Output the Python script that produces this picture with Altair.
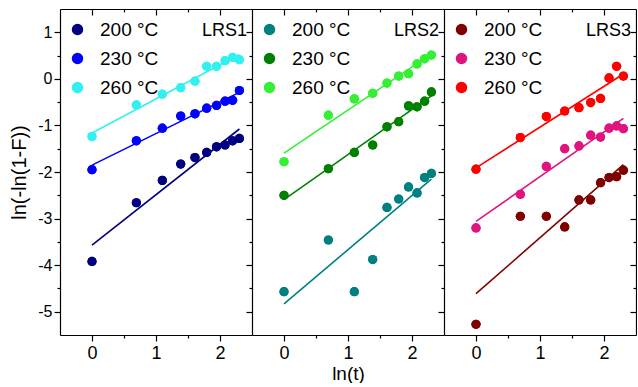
import altair as alt
import pandas as pd

# ---- data ----
ln_t = [0.0, 0.693, 1.099, 1.386, 1.609, 1.792, 1.946, 2.079, 2.197, 2.303]
temps = ["200 °C", "230 °C", "260 °C"]
panel_names = ["LRS1", "LRS2", "LRS3"]

lrs1_200 = [-3.92, -2.66, -2.18, -1.83, -1.69, -1.58, -1.46, -1.42, -1.33, -1.28]
lrs1_230 = [-1.95, -1.33, -1.06, -0.80, -0.75, -0.63, -0.57, -0.48, -0.46, -0.25]
lrs1_260 = [-1.24, -0.56, -0.33, -0.19, -0.05, 0.27, 0.27, 0.39, 0.46, 0.41]

lrs2_200 = [-4.57, -3.46, -4.57, -3.88, -2.76, -2.58, -2.32, -2.45, -2.12, -2.03]
lrs2_230 = [-2.50, -1.93, -1.58, -1.42, -1.03, -0.92, -0.58, -0.60, -0.48, -0.28]
lrs2_260 = [-1.78, -0.78, -0.43, -0.31, -0.09, 0.06, 0.11, 0.32, 0.43, 0.51]

lrs3_200 = [-5.27, -2.95, -2.95, -3.18, -2.60, -2.60, -2.23, -2.12, -2.10, -1.96]
lrs3_230 = [-3.20, -2.48, -1.88, -1.50, -1.44, -1.21, -1.25, -1.06, -1.01, -1.07]
lrs3_260 = [-1.94, -1.26, -0.81, -0.69, -0.62, -0.51, -0.42, 0.02, 0.27, 0.06]

colors_lrs1 = ["#000080", "#0000FF", "#33F0F0"]
colors_lrs2 = ["#008080", "#008000", "#33F033"]
colors_lrs3 = ["#800000", "#E0147F", "#FF0000"]

x_ticks = [0, 0.5, 1, 1.5, 2]
y_ticks = [-5, -4.5, -4, -3.5, -3, -2.5, -2, -1.5, -1, -0.5, 0, 0.5, 1]
x_domain = [-0.5, 2.5]
y_domain = [-5.5, 1.5]

W, H = 192, 326
FONT = "Liberation Sans"

tick_size = {"condition": {"test": "datum.value % 1 == 0", "value": 6}, "value": 3}
label_expr = "datum.value % 1 == 0 ? '' + datum.value : ''"


def panel(name, series, colors, first, middle, last):
    rows = []
    for temp, vals in zip(temps, series):
        for x, y in zip(ln_t, vals):
            rows.append({"lnt": x, "val": y, "temp": temp})
    df = pd.DataFrame(rows)

    xs = alt.Scale(domain=x_domain, nice=False, zero=False)
    ys = alt.Scale(domain=y_domain, nice=False, zero=False)
    cs = alt.Scale(domain=temps, range=colors)

    x_main = alt.X(
        "lnt:Q", scale=xs,
        axis=alt.Axis(orient="bottom", values=x_ticks, labelExpr=label_expr,
                      tickSize=tick_size, labelFontSize=18, labelPadding=3,
                      title="ln(t)" if middle else None, titleFontSize=19,
                      titlePadding=2, labelOverlap=False, labelFlush=False),
    )
    y_main = alt.Y(
        "val:Q", scale=ys,
        axis=alt.Axis(orient="left", values=y_ticks, labelExpr=label_expr,
                      labels=first, tickSize=tick_size, labelFontSize=16,
                      labelPadding=2, title="ln(-ln(1-F))" if first else None,
                      titleFontSize=20, titlePadding=8, labelOverlap=False,
                      labelFlush=False),
    )
    x_mirror = alt.X(
        "lnt:Q", scale=xs,
        axis=alt.Axis(orient="bottom", offset=-H, values=x_ticks, labels=False,
                      tickSize=tick_size, title=None),
    )
    if last:
        y_mirror = alt.Y(
            "val:Q", scale=ys,
            axis=alt.Axis(orient="left", offset=-W, values=y_ticks, labels=False,
                          tickSize=tick_size, title=None),
        )
    else:
        y_mirror = alt.Y("val:Q", scale=ys, axis=None)

    # first layer carries the legend and the main axes
    legend_points = (
        alt.Chart(df)
        .mark_circle(size=85, opacity=1)
        .encode(
            x=x_main, y=y_main,
            color=alt.Color(
                "temp:N", scale=cs,
                legend=alt.Legend(orient="none", legendX=8, legendY=11, title=None,
                                  padding=0, symbolType="circle", symbolSize=130,
                                  symbolStrokeWidth=0, labelFontSize=19,
                                  labelFont=FONT, labelOffset=13, rowPadding=9,
                                  labelColor="black"),
            ),
        )
    )
    lines = (
        alt.Chart(df)
        .transform_regression("lnt", "val", groupby=["temp"])
        .mark_line(strokeWidth=1.6)
        .encode(x=x_mirror, y=y_mirror, color=alt.Color("temp:N", scale=cs, legend=None))
    )
    top_points = (
        alt.Chart(df)
        .mark_circle(size=85, opacity=1)
        .encode(
            x=alt.X("lnt:Q", scale=xs, axis=None),
            y=alt.Y("val:Q", scale=ys, axis=None),
            color=alt.Color("temp:N", scale=cs, legend=None),
        )
    )
    label = (
        alt.Chart(pd.DataFrame({"name": [name]}))
        .mark_text(align="right", baseline="alphabetic", fontSize=18, font=FONT, color="black")
        .encode(text="name:N", x=alt.value(W - 5), y=alt.value(27))
    )
    return (
        alt.layer(legend_points, lines, top_points, label)
        .resolve_axis(x="independent", y="independent")
        .properties(width=W, height=H)
    )


p1 = panel(panel_names[0], [lrs1_200, lrs1_230, lrs1_260], colors_lrs1, True, False, False)
p2 = panel(panel_names[1], [lrs2_200, lrs2_230, lrs2_260], colors_lrs2, False, True, False)
p3 = panel(panel_names[2], [lrs3_200, lrs3_230, lrs3_260], colors_lrs3, False, False, True)

chart = (
    alt.hconcat(p1, p2, p3, spacing=0, bounds="flush")
    .resolve_scale(color="independent")
    .properties(padding={"left": 9, "top": 8, "right": 0, "bottom": 0}, background="white")
    .configure_view(stroke=None)
    .configure_axis(
        grid=False, domainColor="black", tickColor="black", domainWidth=1.2,
        tickWidth=1.2, labelFont=FONT, titleFont=FONT, labelColor="black",
        titleColor="black", titleFontWeight="normal",
    )
)

chart.save("out.html", embed_options={"renderer": "svg", "actions": False})
